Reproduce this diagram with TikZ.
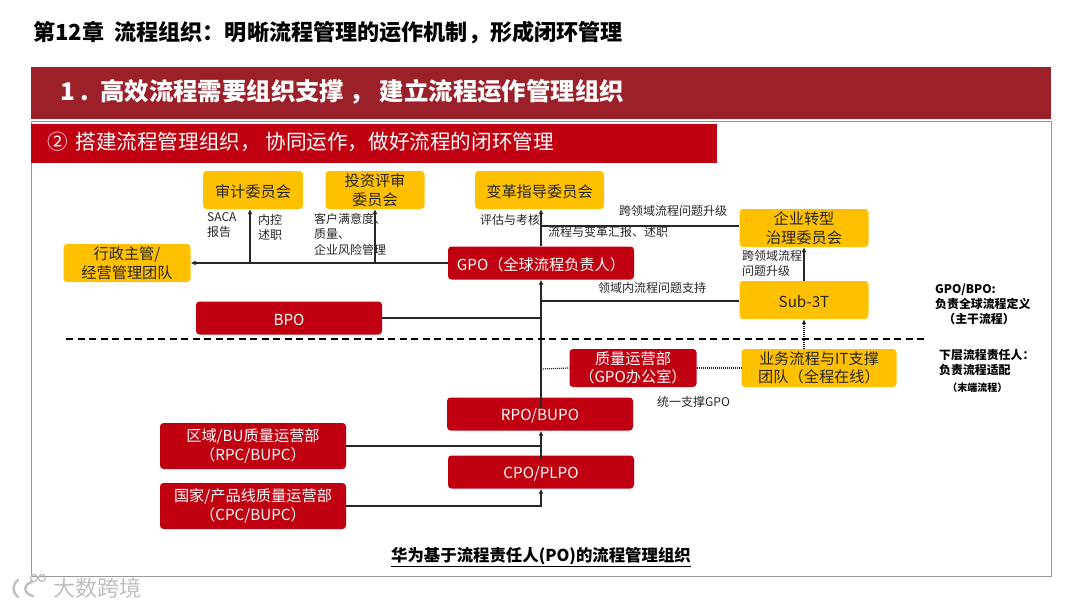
\documentclass[tikz,border=0pt]{standalone}
\usepackage{fontspec}
\setmainfont{Noto Sans CJK SC}
\usetikzlibrary{arrows.meta}
\definecolor{hwred}{HTML}{C00010}
\definecolor{hwdark}{HTML}{9B2029}
\definecolor{hwyel}{HTML}{FFC000}
\definecolor{ink}{HTML}{262626}
\tikzset{
 x=1pt,y=-1pt,
 box/.style={rounded corners=3.5pt,minimum height=#1,inner sep=0pt,align=center,font=\fontsize{15.2}{18.5}\selectfont,execute at begin node={\rule{0pt}{15.5pt}}},
 redbox/.style={box=#1,fill=hwred,text=white},
 yelbox/.style={box=#1,fill=hwyel,text=ink},
 lbl/.style={font=\fontsize{12}{15}\selectfont,text=ink,align=left,inner sep=0pt},
 note/.style={font=\fontsize{11.9}{15}\bfseries\selectfont,text=black,align=left,inner sep=0pt},
 conn/.style={line width=1.2pt,draw=ink},
 arr/.style={conn,-{Latex[length=5pt,width=5pt]}},
 dot/.style={line width=1.2pt,draw=ink,dash pattern=on 1pt off 1pt},
 logo/.style={line width=2.4pt,draw=black!25,line cap=round},
}
\begin{document}
\begin{tikzpicture}
\useasboundingbox (0,0) rectangle (1080,608);
\fill[white] (0,0) rectangle (1080,608);
\node[anchor=west,inner sep=0pt,font=\fontsize{22.1}{26}\bfseries\selectfont,text=black] (title) at (33,33) {第12章\ \ 流程组织：明晰流程管理的运作机制，形成闭环管理};
\draw[line width=1pt,draw=black!40] (31,121) rectangle (1051,576);
\node[fill=hwdark,minimum width=1020pt,minimum height=52pt,inner sep=0pt,anchor=north west] (band) at (31,67) {};
\node[anchor=west,inner sep=0pt,text=white,font=\fontsize{24.4}{29}\bfseries\selectfont] (head) at (60,91.5) {1\ .\ \ 高效流程需要组织支撑\ ，\ 建立流程运作管理组织};
\node[fill=hwred,minimum width=686pt,minimum height=39pt,inner sep=0pt,anchor=north west] (sub) at (31,124) {};
\node[anchor=west,inner sep=0pt,text=white,font=\fontsize{20.6}{25}\selectfont] (subt) at (47,142) {②\hspace{3pt} 搭建流程管理组织，\ 协同运作，做好流程的闭环管理};
% nodes
\node[yelbox=38pt,minimum width=100pt] (audit) at (253,190) {审计委员会};
\node[yelbox=38pt,minimum width=99pt] (invest) at (375,190) {投资评审\\委员会};
\node[yelbox=38pt,minimum width=129pt] (change) at (539.5,190) {变革指导委员会};
\node[yelbox=38pt,minimum width=129pt] (corp) at (804,228) {企业转型\\治理委员会};
\node[yelbox=38pt,minimum width=129pt] (sub3t) at (804,300) {Sub-3T};
\node[yelbox=38pt,minimum width=127pt] (admin) at (127,263) {行政主管/\\经营管理团队};
\node[redbox=33pt,minimum width=186pt] (gpo) at (541,263) {GPO（全球流程负责人）};
\node[redbox=33pt,minimum width=186pt] (bpo) at (289,318) {BPO};
\node[redbox=38pt,minimum width=127pt] (qual) at (633,368) {质量运营部\\（GPO办公室）};
\node[yelbox=38pt,minimum width=155pt] (itsup) at (819,368) {业务流程与IT支撑\\团队（全程在线）};
\node[redbox=33pt,minimum width=186pt] (rpo) at (540,414) {RPO/BUPO};
\node[redbox=33pt,minimum width=186pt] (cpo) at (541,472) {CPO/PLPO};
\node[redbox=46pt,minimum width=186pt] (rpc) at (253,446) {区域/BU质量运营部\\（RPC/BUPC）};
\node[redbox=46pt,minimum width=186pt] (cpc) at (253,506) {国家/产品线质量运营部\\（CPC/BUPC）};
% free points
\coordinate (ja) at (250,263);
\coordinate (ji) at (375,263);
\coordinate (jc) at (541,226);
\coordinate (js) at (541,301);
\coordinate (jb) at (541,318);
\coordinate (jq) at (541,369);
\coordinate (jr) at (541,446);
\coordinate (jp) at (541,506);
\coordinate (ru) at (541,408);
\coordinate (cu) at (541,459);
\coordinate (dl) at (66,339);
\coordinate (dr) at (926,339);
% connectors
\draw[arr] (gpo.west) -- (admin.east);
\draw[arr] (ja) -- (ja |- audit.south);
\draw[arr] (ji) -- (invest.south);
\draw[arr] (gpo.north -| jc) -- (jc |- change.south);
\draw[conn] (jc) -- (corp.west |- jc);
\draw[arr] (ru) -- (jc |- gpo.south);
\draw[conn] (js) -- (sub3t.west |- js);
\draw[conn] (bpo.east) -- (jb);
\draw[arr] (sub3t.north) -- (corp.south);
\draw[dot,-{Latex[length=5pt,width=5pt]}] (itsup.north -| sub3t) -- (sub3t.south);
\draw[dot] (jq) -- (qual.west);
\draw[dot] (qual.east) -- (itsup.west);
\draw[arr] (cu) -- (jr |- rpo.south);
\draw[conn] (rpc.east) -- (jr);
\draw[arr] (cpc.east) -- (jp) -- (jp |- cpo.south);
\draw[line width=1.4pt,draw=black,dash pattern=on 7pt off 4.5pt] (dl) -- (dr);
% labels
\node[lbl,anchor=north west] (l1) at (207,212) {SACA\\报告};
\node[lbl,anchor=north west] (l2) at (258,214) {内控\\述职};
\node[lbl,anchor=north west] (l3) at (314,213) {客户满意度、\\质量、\\[1.5pt]企业风险管理};
\node[lbl,anchor=west] (l4) at (480,220) {评估与考核};
\node[lbl,anchor=west] (l5) at (619,211) {跨领域流程问题升级};
\node[lbl,anchor=west] (l6) at (548,232) {流程与变革汇报、述职};
\node[lbl,anchor=north west] (l7) at (742,250) {跨领域流程\\问题升级};
\node[lbl,anchor=west] (l8) at (598,288) {领域内流程问题支持};
\node[lbl,anchor=west] (l9) at (657,402) {统一支撑GPO};
\node[note,anchor=north west] (n1) at (935,284) {GPO/BPO:\\负责全球流程定义\\\ \ \ （主干流程）};
\node[note,anchor=north west] (n2) at (939,349) {下层流程责任人：\\负责流程适配\\[2pt]\ \ \ {\fontsize{10}{12}\selectfont（末端流程）}};
\node[inner sep=0pt,font=\fontsize{16.4}{20}\bfseries\selectfont,text=black] (cap) at (541,557) {\underline{华为基于流程责任人(PO)的流程管理组织}};
% watermark
\node[inner sep=0pt,anchor=west,font=\fontsize{22}{26}\selectfont,text=black!25] (wm) at (53,588) {大数跨境};
\draw[logo] (18,580) .. controls (12,585) and (12,592) .. (18,597);
\draw[logo] (32,582) .. controls (23,584) and (23,594) .. (33,596);
\draw[logo,line width=1.4pt] (34,578) circle (3.5pt);
\draw[logo,line width=1.4pt] (42,578) circle (3.5pt);
\end{tikzpicture}
\end{document}
